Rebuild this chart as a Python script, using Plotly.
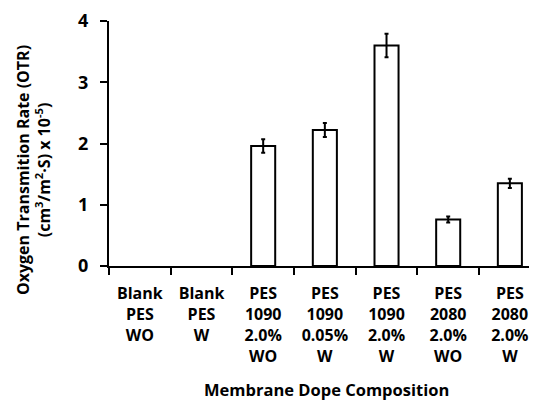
import plotly.graph_objects as go

categories = ["Blank<br>PES<br>WO", "Blank<br>PES<br>W", "PES<br>1090<br>2.0%<br>WO",
              "PES<br>1090<br>0.05%<br>W", "PES<br>1090<br>2.0%<br>W",
              "PES<br>2080<br>2.0%<br>WO", "PES<br>2080<br>2.0%<br>W"]
otr_values = [None, None, 1.96, 2.22, 3.60, 0.76, 1.35]
otr_errors = [None, None, 0.11, 0.115, 0.19, 0.05, 0.075]

FONT = "Open Sans"
# page body has an 8px margin; figure sized to fit the 537x400 window
W, H = 529, 392
L, R, T, B = 101, 0, 13, 134
pw, ph = W - L - R, H - T - B

fig = go.Figure(go.Bar(
    x=categories, y=otr_values, width=0.39,
    marker=dict(color="white", line=dict(color="black", width=2)),
    error_y=dict(type="data", array=otr_errors, color="black", thickness=2, width=2,
                 visible=True),
))

fig.update_layout(
    width=W, height=H,
    margin=dict(l=L, r=R, t=T, b=B),
    paper_bgcolor="white", plot_bgcolor="white",
    font=dict(family=FONT, color="black", size=16),
    showlegend=False,
    xaxis=dict(
        type="category", range=[-0.5, 6.44], automargin=False,
        showline=True, linecolor="black", linewidth=2,
        ticks="outside", tickson="boundaries", ticklen=7, tickwidth=2, tickcolor="black",
        tickfont=dict(family=FONT, size=16, weight="bold"),
        ticklabelstandoff=12,
        showgrid=False, zeroline=False,
    ),
    yaxis=dict(
        range=[0, 4], tickvals=[0, 1, 2, 3, 4], automargin=False,
        showline=True, linecolor="black", linewidth=2,
        ticks="outside", ticklen=7, tickwidth=2, tickcolor="black",
        tickfont=dict(family=FONT, size=18, weight="bold"),
        ticklabelstandoff=8,
        showgrid=False, zeroline=False,
    ),
)

fig.add_annotation(
    text="<b>Oxygen Transmition Rate (OTR)<br>(cm<sup>3</sup>/m<sup>2</sup>·S) x 10<sup>-5</sup>)</b>",
    textangle=-90, showarrow=False,
    xref="paper", yref="paper",
    x=(25 - L) / pw, y=(H - B - 162) / ph,
    xanchor="center", yanchor="middle",
    font=dict(family=FONT, size=16, color="black"),
)

fig.add_annotation(
    text="<b>Membrane Dope Composition</b>",
    showarrow=False,
    xref="paper", yref="paper",
    x=(318 - L) / pw, y=(H - B - 382) / ph,
    xanchor="center", yanchor="middle",
    font=dict(family=FONT, size=16.5, color="black"),
)

fig.write_html("out.html")
